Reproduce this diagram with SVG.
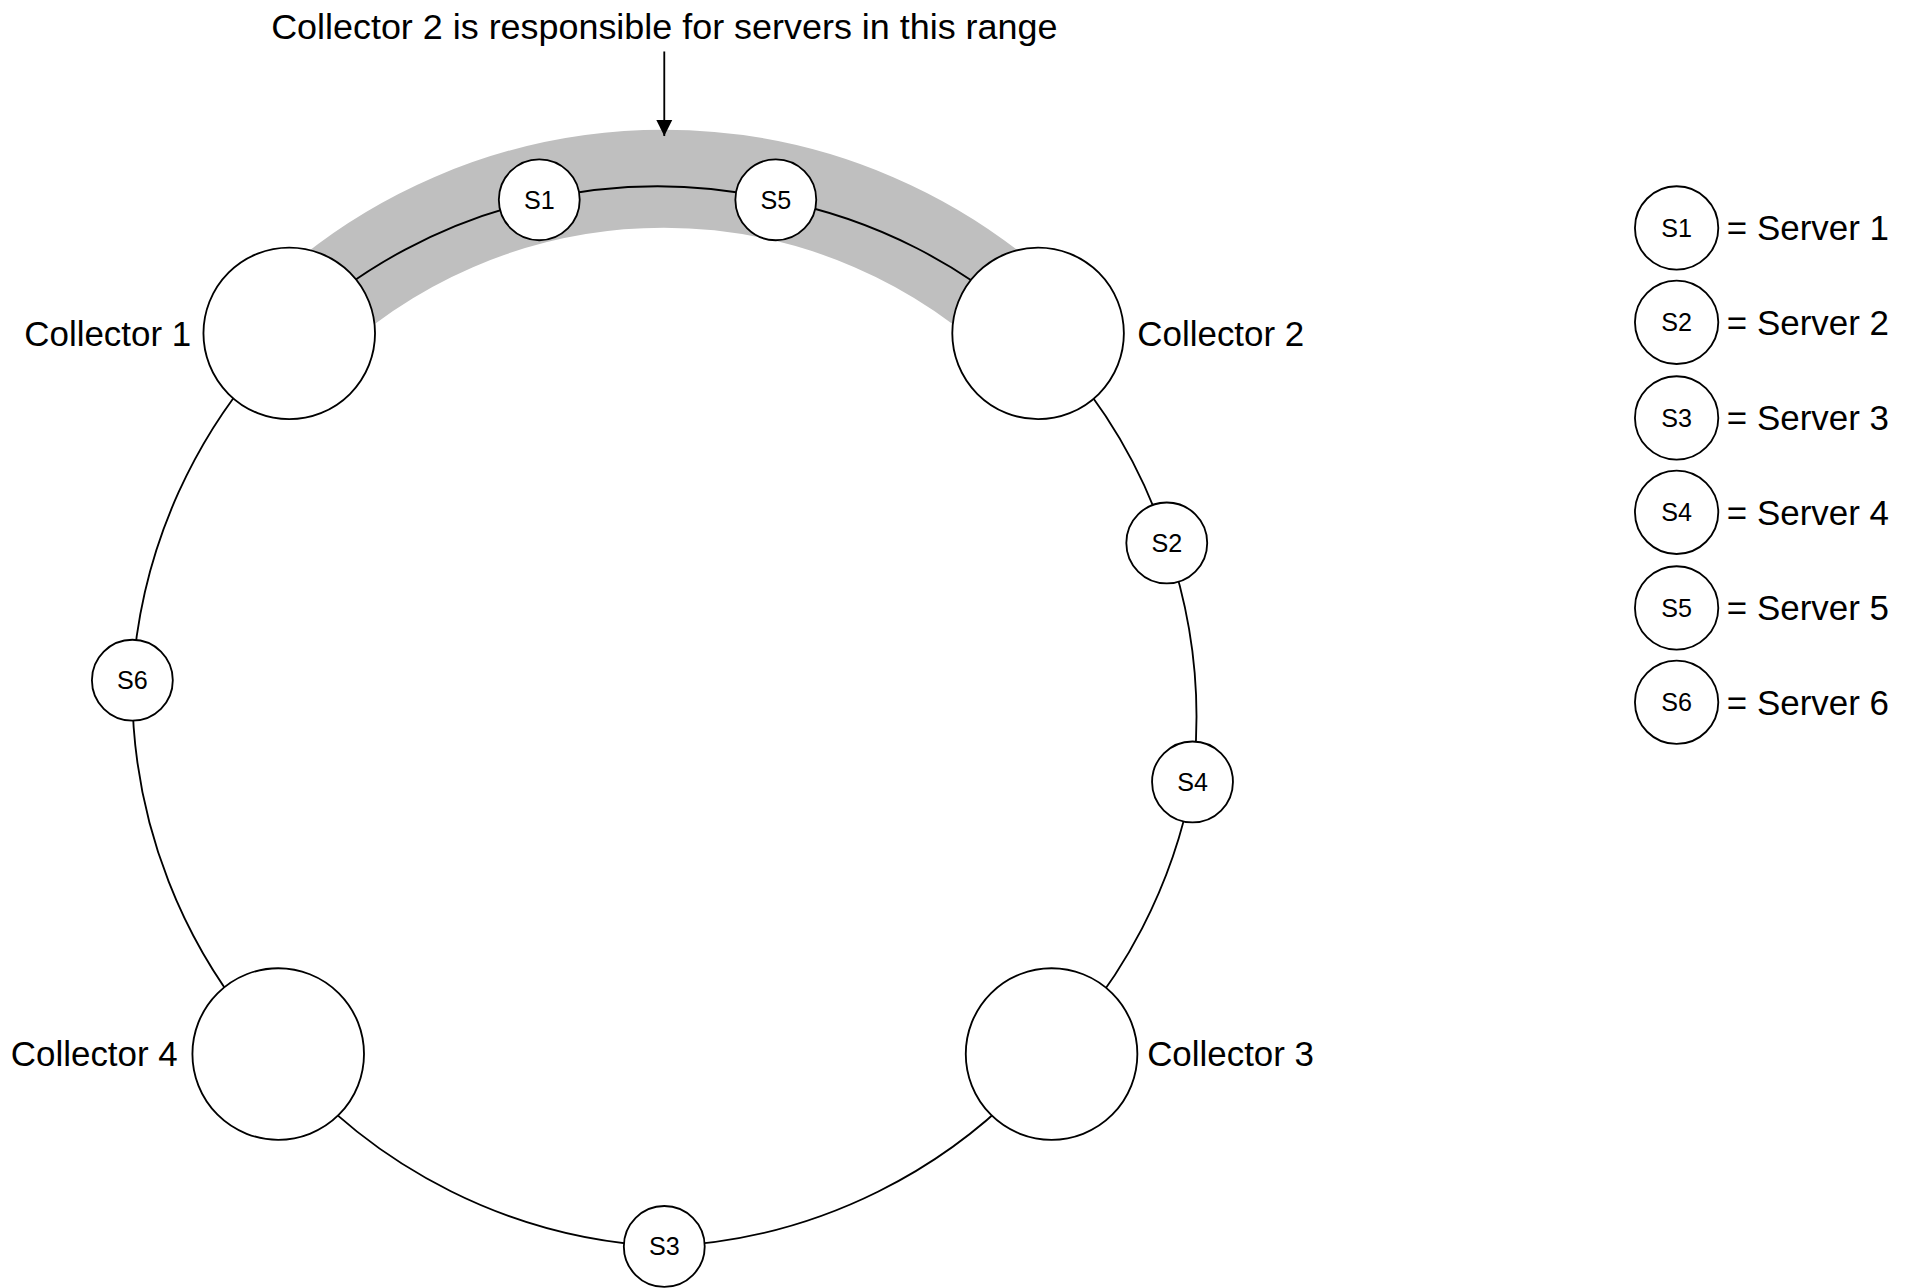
<svg xmlns="http://www.w3.org/2000/svg" width="1920" height="1288" viewBox="0 0 1920 1288">
<style>
.n{fill:#fff;stroke:#000;stroke-width:1.5}
.c{fill:none;stroke:#000;stroke-width:1.5}
.t{font-family:"Liberation Sans",Arial,sans-serif;fill:#000}
.big{font-size:28.5px}
.ttl{font-size:29.3px}
.sm{font-size:20.5px;text-anchor:middle;dominant-baseline:central}
</style>
<defs><marker id="ah" viewBox="0 0 10 10" refX="10" refY="5" markerWidth="13" markerHeight="14" markerUnits="userSpaceOnUse" orient="auto"><path d="M0,0L10,5L0,10z" fill="#000"/></marker></defs>
<rect width="1920" height="1288" fill="#fff"/>
<g transform="scale(1.2256)">
<path d="M236,272 A433,433 0 0 1 847,272" fill="none" stroke="#bfbfbf" stroke-width="80"/>
<g id="connectors">
<path class="c" d="M236,272 A433,433 0 0 1 440,163"/>
<path class="c" d="M440,163 A433,433 0 0 1 633,163"/>
<path class="c" d="M633,163 A433,433 0 0 1 847,272"/>
<path class="c" d="M847,272 A433,433 0 0 1 952,443"/>
<path class="c" d="M952,443 A433,433 0 0 1 973,638"/>
<path class="c" d="M973,638 A433,433 0 0 1 858,860"/>
<path class="c" d="M858,860 A433,433 0 0 1 542,1017"/>
<path class="c" d="M542,1017 A433,433 0 0 1 227,860"/>
<path class="c" d="M227,860 A433,433 0 0 1 108,555"/>
<path class="c" d="M108,555 A433,433 0 0 1 236,272"/>
<line class="c" x1="542" y1="42" x2="542" y2="111" marker-end="url(#ah)"/>
</g>
<text class="t ttl" x="542" y="32" text-anchor="middle">Collector 2 is responsible for servers in this range</text>
<g id="c1"><circle class="n" cx="236" cy="272" r="70"/><text class="t big" x="156" y="282" text-anchor="end">Collector 1</text></g>
<g id="c2"><circle class="n" cx="847" cy="272" r="70"/><text class="t big" x="928" y="282">Collector 2</text></g>
<g id="c3"><circle class="n" cx="858" cy="860" r="70"/><text class="t big" x="936" y="870">Collector 3</text></g>
<g id="c4"><circle class="n" cx="227" cy="860" r="70"/><text class="t big" x="145" y="870" text-anchor="end">Collector 4</text></g>
<g id="s1"><circle class="n" cx="440" cy="163" r="33"/><text class="t sm" x="440" y="163">S1</text></g>
<g id="s5"><circle class="n" cx="633" cy="163" r="33"/><text class="t sm" x="633" y="163">S5</text></g>
<g id="s2"><circle class="n" cx="952" cy="443" r="33"/><text class="t sm" x="952" y="443">S2</text></g>
<g id="s4"><circle class="n" cx="973" cy="638" r="33"/><text class="t sm" x="973" y="638">S4</text></g>
<g id="s3"><circle class="n" cx="542" cy="1017" r="33"/><text class="t sm" x="542" y="1017">S3</text></g>
<g id="s6"><circle class="n" cx="108" cy="555" r="33"/><text class="t sm" x="108" y="555">S6</text></g>
<g id="legend">
<circle class="n" cx="1368" cy="186" r="34"/><text class="t sm" x="1368" y="186">S1</text><text class="t big" x="1409" y="196">= Server 1</text>
<circle class="n" cx="1368" cy="263" r="34"/><text class="t sm" x="1368" y="263">S2</text><text class="t big" x="1409" y="273">= Server 2</text>
<circle class="n" cx="1368" cy="341" r="34"/><text class="t sm" x="1368" y="341">S3</text><text class="t big" x="1409" y="351">= Server 3</text>
<circle class="n" cx="1368" cy="418" r="34"/><text class="t sm" x="1368" y="418">S4</text><text class="t big" x="1409" y="428">= Server 4</text>
<circle class="n" cx="1368" cy="496" r="34"/><text class="t sm" x="1368" y="496">S5</text><text class="t big" x="1409" y="506">= Server 5</text>
<circle class="n" cx="1368" cy="573" r="34"/><text class="t sm" x="1368" y="573">S6</text><text class="t big" x="1409" y="583">= Server 6</text>
</g>
</g>
</svg>
